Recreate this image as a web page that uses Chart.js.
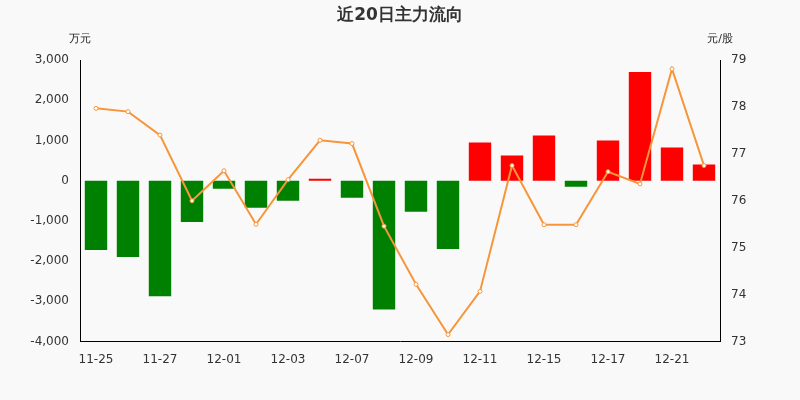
<!DOCTYPE html>
<html><head><meta charset="utf-8">
<script src="https://cdn.jsdelivr.net/npm/chart.js@4"></script>
<style>html,body{margin:0;background:#f9f9f9}#w{width:800px;height:400px}</style>
</head><body><div id="w"><canvas id="c"></canvas></div>
<script>
const categories=["11-25","11-26","11-27","11-28","12-01","12-02","12-03","12-04","12-07","12-08","12-09","12-10","12-11","12-12","12-15","12-16","12-17","12-18","12-21","12-22"];
const flowValues=[-1725,-1900,-2875,-1025,-200,-675,-500,50,-425,-3200,-775,-1700,950,625,1125,-150,1000,2700,825,400];
const priceValues=[77.97,77.9,77.4,76.0,76.64,75.5,76.45,77.29,77.22,75.46,74.22,73.15,74.07,76.75,75.49,75.49,76.62,76.36,78.81,76.75];
const font="'DejaVu Sans', sans-serif";
const extra={id:'extra',afterDraw(ch){const c=ch.ctx;c.save();c.fillStyle='#333';c.font='bold 17px '+font;c.textAlign='center';c.fillText('近20日主力流向',400,20);
c.font='11px '+font;c.fillStyle='#222';c.fillText('万元',80,42);c.fillText('元/股',720,42);c.restore();}};
new Chart(document.getElementById('c'),{
data:{labels:categories,datasets:[
{type:'line',data:priceValues,yAxisID:'y2',borderColor:'#f7953a',borderWidth:2,tension:0,pointRadius:2,pointBackgroundColor:'#fff',pointBorderColor:'#f7953a',pointBorderWidth:1},
{type:'bar',data:flowValues,yAxisID:'y',backgroundColor:flowValues.map(v=>v>=0?'#ff0000':'#008000'),categoryPercentage:0.7,barPercentage:1}]},
options:{responsive:true,maintainAspectRatio:false,animation:false,
layout:{padding:{top:60,left:0,right:0,bottom:30}},
plugins:{legend:{display:false},tooltip:{enabled:false}},
scales:{
x:{offset:true,grid:{display:false,drawTicks:true},border:{color:'#000'},ticks:{color:'#333',font:{family:font,size:12},maxRotation:0,autoSkip:false,callback:(v,i)=>i%2==0&&i<19?categories[i]:''}},
y:{position:'left',min:-4000,max:3000,afterFit(s){s.width=80},grid:{display:false},border:{color:'#000'},ticks:{stepSize:1000,color:'#333',font:{family:font,size:12},callback:v=>v.toLocaleString('en-US')}},
y2:{position:'right',min:73,max:79,afterFit(s){s.width=80},grid:{display:false},border:{color:'#000'},ticks:{stepSize:1,color:'#333',font:{family:font,size:12}}}
}},plugins:[extra]});
</script></body></html>
